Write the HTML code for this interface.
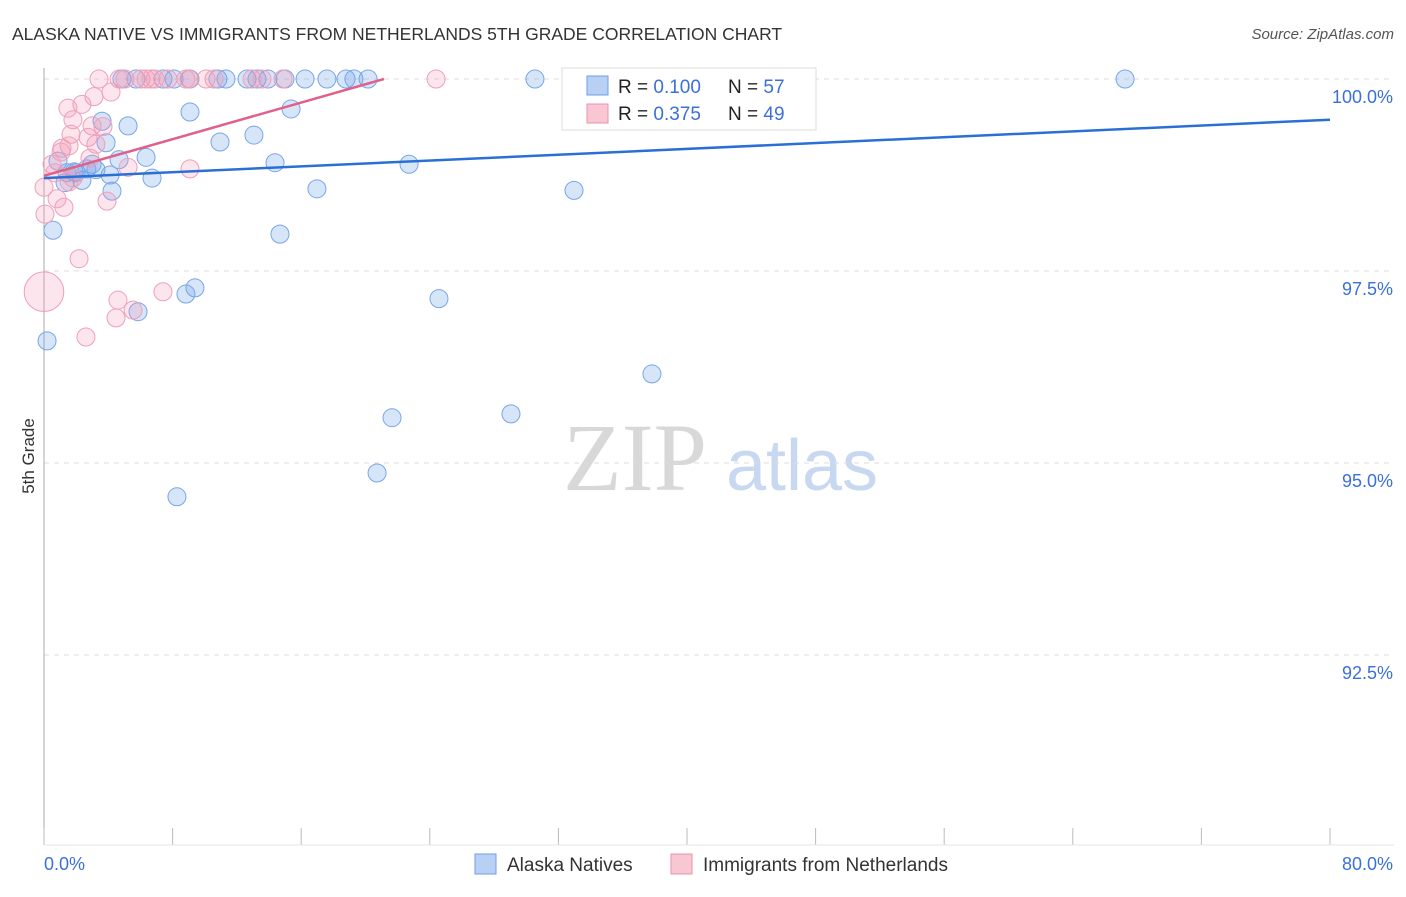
<!DOCTYPE html>
<html><head><meta charset="utf-8"><style>
body{margin:0;background:#fff;font-family:"Liberation Sans",sans-serif;}
</style></head><body>
<svg id="chart" width="1406" height="892" xmlns="http://www.w3.org/2000/svg" font-family="Liberation Sans, sans-serif">
<text x="12" y="40" font-size="17.5" fill="#333">ALASKA NATIVE VS IMMIGRANTS FROM NETHERLANDS 5TH GRADE CORRELATION CHART</text>
<text x="1394" y="39" font-size="15" fill="#555" text-anchor="end" font-style="italic">Source: ZipAtlas.com</text>
<text x="34" y="456" font-size="17" fill="#333" text-anchor="middle" transform="rotate(-90 34 456)">5th Grade</text>
<g><text x="635" y="490" font-size="96" fill="#d8d8d8" text-anchor="middle" style="font-family:'Liberation Serif',serif">ZIP</text><text x="802" y="490" font-size="72" fill="#c8d8f0" text-anchor="middle">atlas</text></g>
<g id="grid"></g><g id="axes"></g><g id="pts"></g><g id="lines"></g>
<g>
<rect x="562" y="68" width="254" height="62" fill="#fff" stroke="#ddd"/>
<rect x="587" y="76" width="21" height="19" fill="#b8d0f4" stroke="#6d9ee6"/>
<rect x="587" y="104" width="21" height="19" fill="#f9c6d4" stroke="#ea93ad"/>
<text x="618" y="93" font-size="19" fill="#222">R = <tspan fill="#3a70d8">0.100</tspan></text>
<text x="728" y="93" font-size="19" fill="#222">N = <tspan fill="#3a70d8">57</tspan></text>
<text x="618" y="120" font-size="19" fill="#222">R = <tspan fill="#3a70d8">0.375</tspan></text>
<text x="728" y="120" font-size="19" fill="#222">N = <tspan fill="#3a70d8">49</tspan></text>
</g>
<g>
<rect x="475" y="854" width="21" height="20" fill="#b8d0f4" stroke="#6d9ee6"/>
<text x="507" y="871" font-size="19" fill="#333">Alaska Natives</text>
<rect x="671" y="854" width="21" height="20" fill="#f9c6d4" stroke="#ea93ad"/>
<text x="703" y="871" font-size="19" fill="#333">Immigrants from Netherlands</text>
</g>
</svg>
<script>
const blueX=[4.85,5.72,7.40,8.09,9.08,10.82,11.32,12.63,13.25,13.93,14.99,16.24,17.6,18.79,19.28,20.16,30.54,41.56,44.98,67.25,9.08,5.23,3.61,15.37,10.95,13.06,3.86,2.99,6.35,4.67,0.87,14.37,22.71,3.23,1.99,2.36,6.72,4.23,16.98,32.97,0.56,14.68,9.39,8.83,5.85,24.57,0.19,37.82,21.65,29.05,20.72,8.27,1.87,1.43,1.31,2.67,4.11];
const blueY=[100,100,100,100,100,100,100,100,100,100,100,100,100,100,100,100,100,100,100,100,99.57,99.39,99.45,99.61,99.18,99.27,99.17,98.89,98.98,98.95,98.93,98.91,98.89,98.82,98.78,98.68,98.71,98.54,98.57,98.55,98.03,97.98,97.28,97.2,96.97,97.14,96.59,96.16,95.59,95.64,94.87,94.56,98.79,98.78,98.65,98.83,98.75];
const pinkX=[3.42,4.67,5.04,6.03,6.35,6.66,6.91,7.71,8.83,9.02,10.08,10.58,12.94,13.56,14.87,24.39,33.22,4.17,3.11,2.36,1.49,1.8,2.99,1.68,3.67,2.74,3.23,1.12,1.56,1.06,2.86,0.5,5.23,9.08,0.68,1.8,1.56,0.81,1.24,3.92,0.06,0,2.18,7.4,4.6,4.48,5.54,2.61,0];
const pinkY=[100,100,100,100,100,100,100,100,100,100,100,100,100,100,100,100,100,99.83,99.77,99.67,99.62,99.47,99.39,99.28,99.38,99.24,99.15,99.1,99.13,99.05,98.97,98.89,98.85,98.83,98.78,98.71,98.66,98.44,98.33,98.41,98.24,98.59,97.66,97.23,97.12,96.89,96.99,96.64,97.23];
const pinkSize=[1,1,1,1,1,1,1,1,1,1,1,1,1,1,1,1,1,1,1,1,1,1,1,1,1,1,1,1,1,1,1,1,1,1,1,1,1,1,1,1,1,1,1,1,1,1,1,1,2.2];
const blueTrendX=[0,80], blueTrendY=[98.71,99.47];
const pinkTrendX=[0,21.15], pinkTrendY=[98.74,100];
const yTicks=[100,97.5,95,92.5];
const yTickLabels=["100.0%","97.5%","95.0%","92.5%"];
const xTickVals=[0,8,16,24,32,40,48,56,64,72,80];
const xEndLabels=["0.0%","80.0%"];
const X=v=>44+v/80*1286, Y=v=>79+(100-v)/2.5*192;
const NS="http://www.w3.org/2000/svg";
function mk(tag,attrs,parent){const e=document.createElementNS(NS,tag);for(const k in attrs)e.setAttribute(k,attrs[k]);document.getElementById(parent).appendChild(e);return e;}
yTicks.forEach((t,i)=>{
 const l=mk('line',{x1:44,x2:1394,y1:Y(t),y2:Y(t),stroke:'#ddd','stroke-dasharray':'5,5'},'grid');
 
 
 const tx=mk('text',{x:1393,y:Y(t)+24,'font-size':18,fill:'#3a70d8','text-anchor':'end'},'grid');
 tx.textContent=yTickLabels[i];
 
 
});
const ya=mk('line',{x1:44,x2:44,y1:68,y2:845,stroke:'#aaa'},'axes');


xTickVals.forEach(v=>{
 const t=mk('line',{x1:X(v),x2:X(v),y1:828,y2:845,stroke:'#bbb'},'axes');
 
 
});
const xa=mk('line',{x1:44,x2:1394,y1:845,y2:845,stroke:'#e6e6e6'},'axes');


[[0,'start',44],[1,'end',1393]].forEach(([i,a,x])=>{
 const t=mk('text',{x:x,y:870,'font-size':18,fill:'#3a70d8','text-anchor':a},'axes');
 t.textContent=xEndLabels[i];
 
 
});
blueX.forEach((v,i)=>{
 const c=mk('circle',{cx:X(v),cy:Y(blueY[i]),r:9,fill:'rgba(110,160,235,0.28)',stroke:'#78a6e8','stroke-width':1},'pts');
 
 
});
pinkX.forEach((v,i)=>{
 const c=mk('circle',{cx:X(v),cy:Y(pinkY[i]),r:9*pinkSize[i],fill:'rgba(245,150,180,0.25)',stroke:'#eea0b8','stroke-width':1},'pts');
 
 
});
const bl=mk('line',{x1:X(blueTrendX[0]),y1:Y(blueTrendY[0]),x2:X(blueTrendX[1]),y2:Y(blueTrendY[1]),stroke:'#2a6fd6','stroke-width':2.5},'lines');


const pl=mk('line',{x1:X(pinkTrendX[0]),y1:Y(pinkTrendY[0]),x2:X(pinkTrendX[1]),y2:Y(pinkTrendY[1]),stroke:'#e0608a','stroke-width':2.5},'lines');


</script>
</body></html>
